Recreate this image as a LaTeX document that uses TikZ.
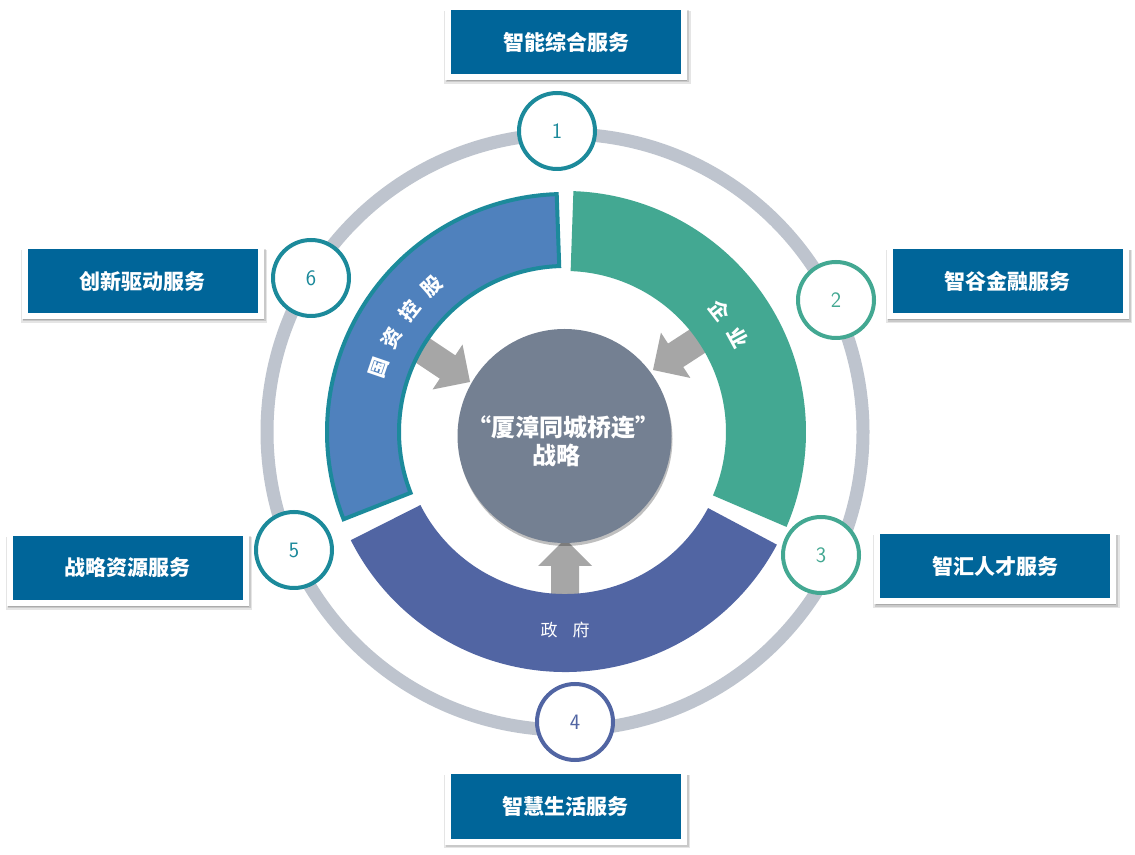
\documentclass[tikz,border=0pt]{standalone}
\usepackage{fontspec}
\setmainfont{Noto Sans CJK SC}
\usetikzlibrary{shadows}
\definecolor{boxblue}{RGB}{0,101,153}
\definecolor{ringgray}{RGB}{190,196,206}
\definecolor{leftblue}{RGB}{79,129,189}
\definecolor{tealc}{RGB}{28,138,155}
\definecolor{greenc}{RGB}{67,168,146}
\definecolor{botblue}{RGB}{81,101,163}
\definecolor{coregray}{RGB}{116,128,146}
\definecolor{arrowgray}{RGB}{166,166,166}
\tikzset{
  svcbox/.style={rectangle, fill=boxblue, draw=white, line width=6pt,
    minimum width=236pt, minimum height=70pt, inner sep=0pt, text=white,
    font=\bfseries\fontsize{21}{21}\selectfont,
    drop shadow={shadow xshift=1.5pt, shadow yshift=-5pt, opacity=0.10, shadow scale=1.045, fill=black},
    drop shadow={shadow xshift=1.5pt, shadow yshift=-4pt, opacity=0.12, shadow scale=1.03, fill=black},
    drop shadow={shadow xshift=1pt, shadow yshift=-3pt, opacity=0.15, shadow scale=1.02, fill=black}},
  numcirc/.style={circle, draw=#1, line width=4pt, fill=white,
    minimum size=76pt, inner sep=0pt, text=#1,
    font=\sffamily\fontsize{22}{22}\selectfont},
  arclabel/.style={text=white, inner sep=0pt, font=\bfseries\fontsize{20}{20}\selectfont},
  blockarrow/.style={fill=arrowgray}
}
\begin{document}
\begin{tikzpicture}[x=1pt,y=1pt]
\useasboundingbox (0,0) rectangle (1135,854);
\fill[white] (0,0) rectangle (1135,854);
\coordinate (C) at (565,422);
% outer ring
\draw[ringgray, line width=13pt] (C) circle[radius=298pt];
% block arrows
\fill[blockarrow, shift={(470,472)}, rotate=-33.7]
  (0,0) -- (-27,27) -- (-27,14) -- (-62,14) -- (-62,-14) -- (-27,-14) -- (-27,-27) -- cycle;
\fill[blockarrow, shift={(653,484)}, rotate=213]
  (0,0) -- (-27,27) -- (-27,14) -- (-62,14) -- (-62,-14) -- (-27,-14) -- (-27,-27) -- cycle;
\fill[blockarrow, shift={(565,315)}, rotate=90]
  (0,0) -- (-27,27) -- (-27,14) -- (-62,14) -- (-62,-14) -- (-27,-14) -- (-27,-27) -- cycle;
% arcs
\begin{scope}[shift={(C)}]
\fill[greenc] (88:241pt) arc[start angle=88, end angle=-23.2, radius=241pt]
  -- (-23.2:161pt) arc[start angle=-23.2, end angle=88, radius=161pt] -- cycle;
\fill[botblue] (-153.2:240pt) arc[start angle=-153.2, end angle=-28, radius=240pt]
  -- (-28:162pt) arc[start angle=-28, end angle=-153.2, radius=162pt] -- cycle;
\filldraw[fill=leftblue, draw=tealc, line width=4pt]
  (92:238pt) arc[start angle=92, end angle=201.5, radius=238pt]
  -- (201.5:166pt) arc[start angle=201.5, end angle=92, radius=166pt] -- cycle;
% arc labels
\node[arclabel, rotate=71] (la1) at (161:197pt) {国};
\node[arclabel, rotate=61.5] (la2) at (151.5:197pt) {资};
\node[arclabel, rotate=52] (la3) at (142:197pt) {控};
\node[arclabel, rotate=42.5] (la4) at (132.5:197pt) {股};
\node[arclabel, rotate=-52] (ra1) at (38:197pt) {企};
\node[arclabel, rotate=-61.5] (ra2) at (28.5:197pt) {业};
\end{scope}
\node[text=white, font=\fontsize{17}{17}\selectfont] (gov) at (565,224) {政\hspace{15pt}府};
% core circle
\node[circle, fill=coregray, minimum size=214pt, inner sep=0pt,
  drop shadow={shadow xshift=1pt, shadow yshift=-3pt, opacity=0.25, fill=black}] (core) at (564.5,418) {};
\node[align=center, text=white, font=\bfseries\fontsize{24}{28}\selectfont] (coretext) at (563,413)
  {“厦漳同城桥连”\\战略\kern13pt};
% numbered circles
\node[numcirc=tealc] (n1) at (557,723) {1};
\node[numcirc=greenc] (n2) at (836,554) {2};
\node[numcirc=greenc] (n3) at (821,299) {3};
\node[numcirc=botblue] (n4) at (575,132) {4};
\node[numcirc=tealc] (n5) at (294,304) {5};
\node[numcirc=tealc] (n6) at (311,576) {6};
% service boxes
\node[svcbox] (b1) at (566,812) {智能综合服务};
\node[svcbox] (b2) at (1007.5,572.5) {智谷金融服务};
\node[svcbox] (b3) at (995,287.5) {智汇人才服务};
\node[svcbox] (b4) at (565.5,47.5) {智慧生活服务};
\node[svcbox] (b5) at (127.5,286) {战略资源服务};
\node[svcbox] (b6) at (142.5,573) {创新驱动服务};
\end{tikzpicture}
\end{document}
